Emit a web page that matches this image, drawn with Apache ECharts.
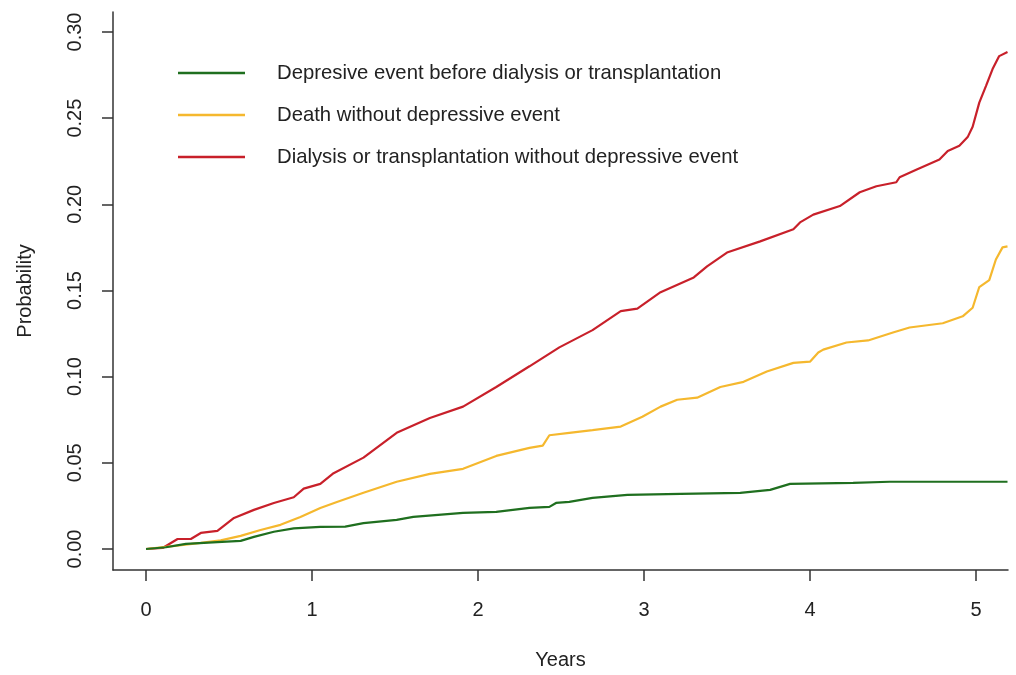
<!DOCTYPE html>
<html>
<head>
<meta charset="utf-8">
<script src="https://cdn.jsdelivr.net/npm/echarts@6/dist/echarts.min.js"></script>
<style>
html,body{margin:0;padding:0;background:#fff;}
#chart{width:1016px;height:675px;}
</style>
</head>
<body>
<div id="chart"></div>
<script>
const seriesNames = [
  "Depresive event before dialysis or transplantation",
  "Death without depressive event",
  "Dialysis or transplantation without depressive event"
];
const xTicks = [0, 1, 2, 3, 4, 5];
const yTicks = [0, 0.05, 0.10, 0.15, 0.20, 0.25, 0.30];

const greenT = [0,0.12,0.24,0.43,0.57,0.65,0.77,0.89,1.05,1.2,1.31,1.51,1.61,1.91,2.11,2.31,2.43,2.47,2.55,2.69,2.90,3.22,3.58,3.76,3.88,4.26,4.48,5.19];
const greenV = [0,0.001,0.003,0.004,0.0047,0.007,0.010,0.012,0.0128,0.013,0.015,0.0169,0.0186,0.021,0.0215,0.0238,0.0244,0.0267,0.0273,0.0297,0.0314,0.032,0.0326,0.0343,0.0378,0.0384,0.039,0.039];

const yellowT = [0,0.16,0.33,0.45,0.57,0.69,0.81,0.93,1.05,1.15,1.31,1.51,1.71,1.91,2.11,2.31,2.39,2.43,2.55,2.69,2.86,2.99,3.10,3.20,3.32,3.46,3.60,3.74,3.90,4.0,4.05,4.08,4.22,4.35,4.50,4.60,4.80,4.92,4.98,5.02,5.08,5.12,5.16,5.19];
const yellowV = [0,0.0017,0.0035,0.005,0.0076,0.011,0.014,0.0186,0.0238,0.0273,0.0326,0.039,0.0436,0.0465,0.054,0.0587,0.060,0.066,0.0674,0.069,0.071,0.0767,0.0826,0.0866,0.0878,0.094,0.097,0.103,0.108,0.1087,0.114,0.1157,0.1198,0.121,0.1256,0.1285,0.131,0.135,0.140,0.152,0.156,0.168,0.175,0.1756];

const redT = [0,0.10,0.19,0.27,0.33,0.43,0.53,0.65,0.77,0.89,0.95,1.05,1.13,1.31,1.51,1.71,1.91,2.11,2.31,2.49,2.69,2.86,2.96,3.10,3.30,3.38,3.50,3.70,3.90,3.94,4.02,4.18,4.30,4.40,4.52,4.54,4.64,4.78,4.83,4.90,4.95,4.98,5.02,5.06,5.10,5.14,5.19];
const redV = [0,0.0006,0.0058,0.0058,0.0093,0.0105,0.018,0.0227,0.0267,0.030,0.035,0.0378,0.044,0.053,0.0674,0.076,0.0826,0.094,0.106,0.117,0.127,0.138,0.1395,0.149,0.1576,0.164,0.172,0.1785,0.1855,0.1895,0.194,0.199,0.207,0.2105,0.2128,0.2157,0.220,0.226,0.231,0.234,0.239,0.245,0.259,0.2686,0.2785,0.286,0.2884];

const colors = ["#1f6f1f", "#f5b82e", "#c8202a"];

function pairs(t, v) { return t.map((x, i) => [x, v[i]]); }

const chart = echarts.init(document.getElementById('chart'), null, {renderer: 'canvas'});
const font = "Liberation Sans, Arial, Helvetica, sans-serif";
const axisCol = "#333";
const fs = 20;

chart.setOption({
  animation: false,
  backgroundColor: "#fff",
  textStyle: {fontFamily: font},
  grid: {left: 113, right: 8, top: 12, bottom: 105, containLabel: false},
  legend: {
    orient: "vertical",
    left: 173,
    top: 56,
    itemWidth: 67,
    itemHeight: 2.5,
    itemGap: 18,
    icon: "rect",
    data: seriesNames,
    textStyle: {fontSize: 20.3, color: "#222", fontFamily: font, lineHeight: 24, padding: [0, 0, 0, 27]}
  },
  xAxis: {
    type: "value",
    min: -0.199,
    max: 5.193,
    name: "Years",
    nameLocation: "middle",
    nameGap: 80,
    nameTextStyle: {fontSize: fs, color: "#222", fontFamily: font},
    axisLine: {show: true, onZero: false, lineStyle: {color: axisCol, width: 1.5}},
    axisTick: {show: true, customValues: xTicks, length: 11, lineStyle: {color: axisCol, width: 1.5}},
    axisLabel: {customValues: xTicks, margin: 30, fontSize: fs, color: "#222", fontFamily: font},
    splitLine: {show: false}
  },
  yAxis: {
    type: "value",
    min: -0.0122,
    max: 0.3116,
    name: "Probability",
    nameLocation: "middle",
    nameGap: 78,
    nameRotate: 90,
    nameTextStyle: {fontSize: fs, color: "#222", fontFamily: font},
    axisLine: {show: true, onZero: false, lineStyle: {color: axisCol, width: 1.5}},
    axisTick: {show: true, customValues: yTicks, length: 11, lineStyle: {color: axisCol, width: 1.5}},
    axisLabel: {customValues: yTicks, rotate: 90, margin: 28, fontSize: fs, color: "#222", fontFamily: font,
      formatter: v => v.toFixed(2)},
    splitLine: {show: false}
  },
  series: [
    {name: seriesNames[0], type: "line", data: pairs(greenT, greenV), showSymbol: false, symbol: "none",
      lineStyle: {color: colors[0], width: 2.2}, itemStyle: {color: colors[0]}, z: 3},
    {name: seriesNames[1], type: "line", data: pairs(yellowT, yellowV), showSymbol: false, symbol: "none",
      lineStyle: {color: colors[1], width: 2.2}, itemStyle: {color: colors[1]}, z: 2},
    {name: seriesNames[2], type: "line", data: pairs(redT, redV), showSymbol: false, symbol: "none",
      lineStyle: {color: colors[2], width: 2.2}, itemStyle: {color: colors[2]}, z: 1}
  ]
});
</script>
</body>
</html>
